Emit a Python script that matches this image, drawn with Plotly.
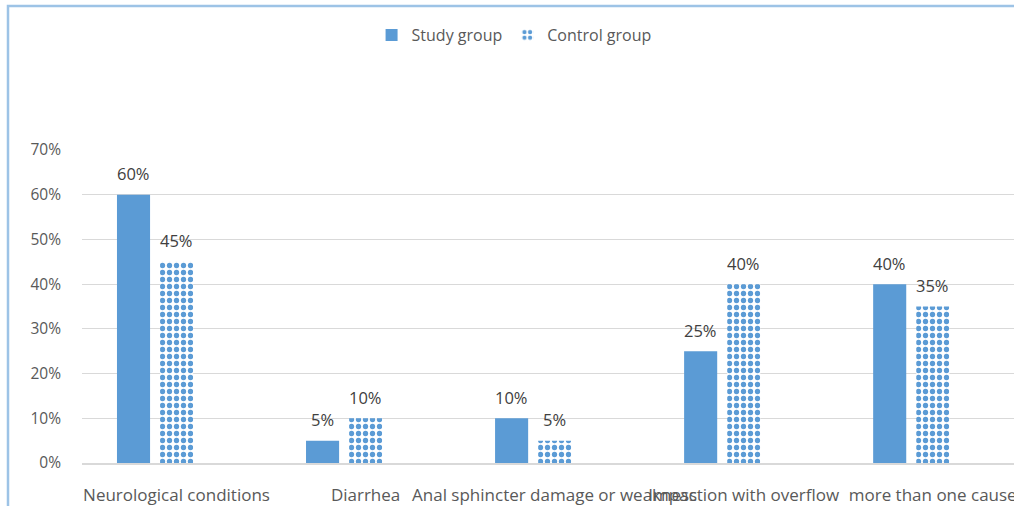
import plotly.graph_objects as go

categories = ["Neurological conditions", "Diarrhea", "Anal sphincter damage or weakness",
              "Impaction with overflow", "more than one cause"]
study_group = [0.60, 0.05, 0.10, 0.25, 0.40]
control_group = [0.45, 0.10, 0.05, 0.40, 0.35]
y_ticks = [0, 0.1, 0.2, 0.3, 0.4, 0.5, 0.6, 0.7]

BLUE = "#5B9BD5"
TEXT = "#595959"
FONT = "Open Sans"

# plot area geometry (px)
L, R, T, B = 82, 0, 150, 43
W, H = 1014, 506
pw, ph = W - L - R, H - T - B
CAT_PX = 189          # pixel width of one category slot
BAR_W = 0.175         # bar width in category units
OFFSETS = [-0.315, -0.087]

fig = go.Figure()
fig.add_trace(go.Bar(
    name="Study group", x=categories, y=study_group,
    marker=dict(color=BLUE, line=dict(width=0)),
    width=BAR_W, offset=OFFSETS[0],
))
fig.add_trace(go.Bar(
    name="Control group", x=categories, y=control_group,
    marker=dict(color="white", line=dict(width=0),
                pattern=dict(shape=".", fgcolor=BLUE, bgcolor="white",
                             fgopacity=1, size=7, solidity=0.45,
                             fillmode="overlay")),
    width=BAR_W, offset=OFFSETS[1],
))

# value labels above each bar
for vals, off in [(study_group, OFFSETS[0]), (control_group, OFFSETS[1])]:
    for cat, v in zip(categories, vals):
        fig.add_annotation(
            x=cat, y=v, xref="x", yref="y",
            text=f"{v:.0%}", showarrow=False,
            xshift=(off + BAR_W / 2) * CAT_PX, yshift=21,
            yanchor="middle", xanchor="center",
            font=dict(color="#404040", size=16.5, family=FONT),
        )

# chart frame: left and top edges
x0 = (8 - L) / pw
y0 = (H - B - 6) / ph
fig.add_shape(type="path", xref="paper", yref="paper",
              path=f"M {x0},-0.2 L {x0},{y0} L 1.1,{y0}",
              line=dict(color="#9DC3E6", width=2.5))

fig.update_layout(
    width=W, height=H,
    margin=dict(l=L, r=R, t=T, b=B, autoexpand=False),
    paper_bgcolor="white", plot_bgcolor="white",
    font=dict(family=FONT, color=TEXT, size=15),
    barmode="overlay",
    showlegend=True,
    legend=dict(orientation="h", x=0.4636, xanchor="center",
                y=(H - B - 35) / ph, yanchor="middle",
                font=dict(size=16, color=TEXT, family=FONT), itemwidth=30,
                bgcolor="rgba(0,0,0,0)"),
    xaxis=dict(type="category", range=[-0.5, 4.43], tickangle=0,
               showgrid=False, showline=True, linecolor="#D9D9D9", linewidth=1.5,
               ticks="", tickfont=dict(size=17, color=TEXT, family=FONT),
               ticklabelstandoff=16),
    yaxis=dict(range=[0, 0.7], tickvals=y_ticks, tickformat=".0%",
               showgrid=True, gridcolor="#D9D9D9", gridwidth=1,
               zeroline=False, showline=False, ticks="",
               tickfont=dict(size=15.5, color=TEXT, family=FONT),
               ticklabelstandoff=20),
)

fig.write_html("out.html")
